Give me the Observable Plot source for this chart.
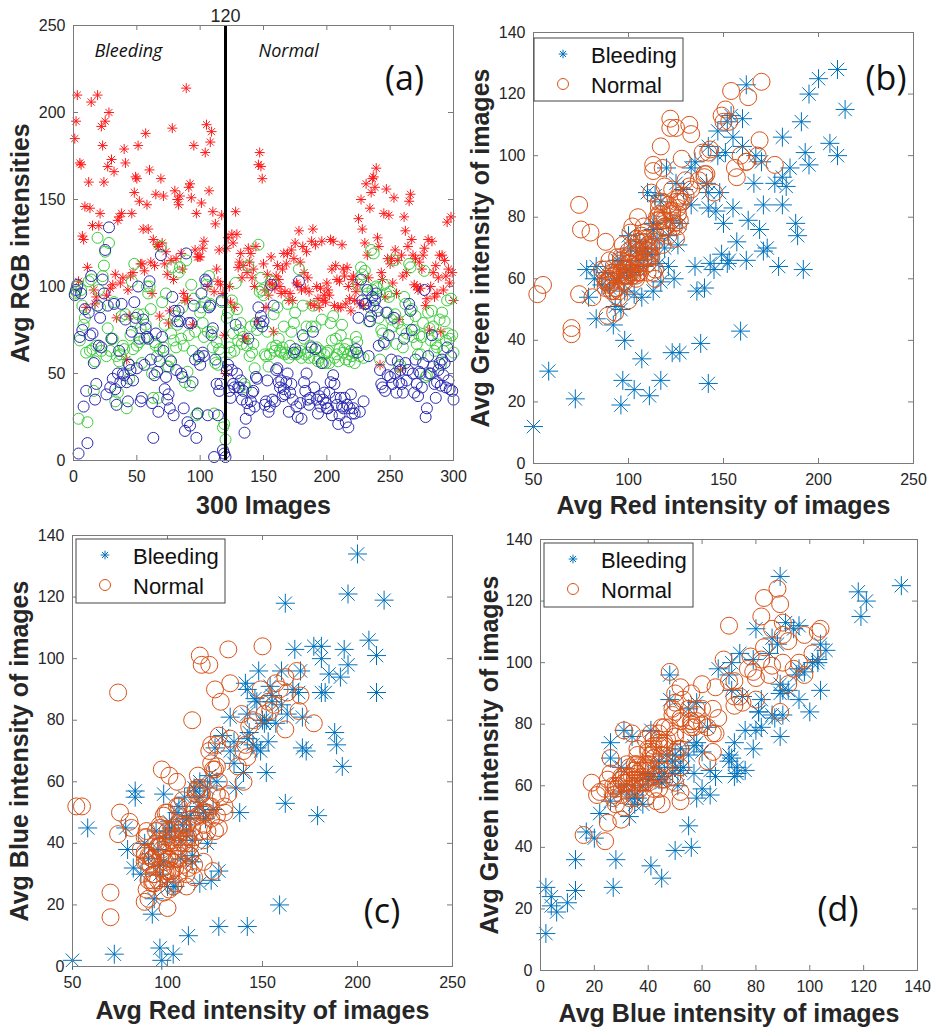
<!DOCTYPE html>
<html>
<head>
<meta charset="utf-8">
<script src="https://cdn.jsdelivr.net/npm/d3@7"></script>
<script src="https://cdn.jsdelivr.net/npm/@observablehq/plot@0.6"></script>
<style>
  body { margin: 0; background: #fff; }
  #fig { position: relative; width: 935px; height: 1030px; background: #fff; overflow: hidden; }
</style>
</head>
<body>
<div id="fig"></div>
<script>
// ---------------- DATA ----------------
// Average R, G, B intensity of each of the 300 images (images 1..120 bleeding, 121..300 normal)
const bleedingCount = 120;
const classNames = ["Bleeding", "Normal"];

const avgRed = [
  185,195,210,103,171,170,129,127,146,88,
  111,160,145,206,135,98,90,94,210,135,
  142,192,181,160,195,95,169,200,99,173,
  101,166,107,82,138,140,102,142,105,179,
  171,58,98,83,106,142,108,154,163,162,
  181,149,113,113,133,109,188,147,133,167,
  114,96,127,112,153,124,123,83,162,125,
  152,113,120,107,79,86,115,191,104,155,
  116,150,147,152,119,110,96,92,214,93,
  157,159,151,78,181,121,142,117,117,117,
  148,122,126,177,193,100,155,183,189,143,
  97,136,110,103,121,101,141,96,72,50,
  122,128,100,91,130,125,88,143,130,111,
  114,119,105,112,70,70,108,122,114,119,
  105,110,100,123,80,170,177,169,162,113,
  98,88,107,95,102,117,101,74,99,106,
  112,104,100,96,110,119,97,113,119,92,
  96,121,92,116,125,102,101,132,114,98,
  123,108,99,120,105,97,90,126,133,89,
  124,100,93,88,99,126,92,95,91,102,
  98,95,127,110,126,89,112,104,88,103,
  88,124,110,106,90,111,100,93,86,104,
  106,92,97,101,139,90,150,133,89,125,
  159,118,105,145,154,162,163,157,168,128,
  123,55,108,104,142,94,156,116,141,113,
  116,102,151,121,96,115,81,52,118,106,
  140,132,108,123,149,153,127,118,101,116,
  100,98,114,99,110,118,122,89,93,127,
  75,100,126,108,94,112,96,105,118,74,
  118,98,115,106,137,110,102,140,108,92
];
const avgGreen = [
  96,97,100,24,69,98,89,78,82,62,
  22,103,63,104,64,40,57,66,128,98,
  88,63,106,112,120,60,76,125,63,70,
  70,91,34,60,39,57,61,83,66,64,
  84,30,56,47,72,103,64,113,79,66,
  84,68,76,56,84,70,78,100,96,100,
  87,50,36,68,66,60,36,64,123,91,
  65,78,96,54,54,58,73,111,69,83,
  65,78,108,111,70,88,66,45,115,51,
  72,43,101,63,93,74,26,27,59,85,
  88,79,71,91,101,74,106,90,74,65,
  27,56,68,55,64,62,91,19,21,12,
  82,85,65,62,92,73,63,102,87,69,
  75,79,67,71,44,42,66,112,60,77,
  62,67,53,79,75,124,97,105,98,95,
  61,60,74,54,61,103,65,84,63,66,
  88,70,63,62,65,77,61,62,90,59,
  66,74,61,79,85,61,62,110,63,59,
  89,70,61,77,62,59,66,77,89,59,
  77,65,57,59,63,81,56,61,56,62,
  63,56,79,69,83,59,70,61,57,64,
  72,78,62,64,58,67,61,57,63,60,
  62,56,71,68,101,60,111,107,59,109,
  100,96,80,88,121,98,119,93,100,99,
  82,58,75,73,101,67,96,85,94,97,
  81,77,115,84,67,79,54,55,75,65,
  94,90,73,81,113,111,87,71,75,83,
  67,61,72,61,71,79,109,48,49,85,
  76,69,86,77,63,67,65,72,81,55,
  85,63,80,69,92,73,70,93,72,62
];
const avgBlue = [
  95,98,101,4,71,96,75,31,87,40,
  10,85,72,106,73,56,35,44,89,66,
  82,65,104,96,121,38,89,134,42,70,
  47,90,41,32,50,63,45,90,50,49,
  81,45,34,55,52,74,46,91,82,53,
  100,70,34,36,81,55,76,71,70,103,
  58,33,13,49,73,51,28,57,118,71,
  63,41,48,35,38,30,57,94,26,86,
  52,80,86,80,50,48,30,17,119,22,
  79,20,79,45,89,58,13,27,60,55,
  96,62,60,104,103,26,88,89,72,76,
  2,58,44,26,40,44,92,6,4,2,
  52,55,40,36,52,44,42,78,50,42,
  42,46,35,40,16,24,33,70,29,34,
  39,40,31,48,47,88,79,83,77,80,
  32,34,46,28,31,101,35,89,34,52,
  53,45,42,46,37,41,38,45,50,28,
  39,44,35,62,64,31,25,103,33,24,
  72,45,40,50,35,32,36,65,74,42,
  64,35,27,37,31,56,35,39,33,30,
  30,39,45,26,49,44,36,32,21,26,
  36,31,30,36,22,32,19,30,38,27,
  30,27,64,62,82,28,104,92,34,90,
  90,98,60,80,83,94,89,92,96,86,
  66,52,44,42,68,40,85,49,72,48,
  58,44,82,50,39,57,45,52,44,39,
  70,56,46,52,90,86,75,50,39,58,
  44,37,51,50,42,56,98,25,30,60,
  50,50,72,54,44,36,45,52,56,43,
  58,49,56,42,65,46,41,60,40,35
];

// Tick labels
const ticksA_x = [0, 50, 100, 150, 200, 250, 300];
const ticksA_y = [0, 50, 100, 150, 200, 250];
const ticksRed = [50, 100, 150, 200, 250];
const ticksInt = [0, 20, 40, 60, 80, 100, 120, 140];

// Axis titles / annotations
const labels = {
  a: {x: "300 Images", y: "Avg RGB intensities", tag: "(a)"},
  b: {x: "Avg Red intensity of images", y: "Avg Green intensity of images", tag: "(b)"},
  c: {x: "Avg Red intensity of images", y: "Avg Blue intensity of images", tag: "(c)"},
  d: {x: "Avg Blue intensity of images", y: "Avg Green intensity of images", tag: "(d)"}
};

// ---------------- TABLE ----------------
const images = avgRed.map((r, i) => ({
  n: i + 1, R: r, G: avgGreen[i], B: avgBlue[i],
  cls: i < bleedingCount ? classNames[0] : classNames[1]
}));
const bleeding = images.filter(d => d.cls === classNames[0]);
const normal = images.filter(d => d.cls === classNames[1]);

// ---------------- STYLE ----------------
const frameColor = "#7a7a7a";
const textColor = "#262626";
const colBleed = "#0072BD";
const colNormal = "#D95319";
const sansFont = "'Liberation Sans', Arial, Helvetica, sans-serif";
const tagFont = "'Open Sans', 'Noto Sans', sans-serif";

// MATLAB-like 8-armed asterisk marker
const asterisk = {
  draw(ctx, size) {
    const r = Math.sqrt(size / Math.PI);
    const d = r * Math.SQRT1_2;
    ctx.moveTo(-r, 0); ctx.lineTo(r, 0);
    ctx.moveTo(0, -r); ctx.lineTo(0, r);
    ctx.moveTo(-d, -d); ctx.lineTo(d, d);
    ctx.moveTo(-d, d); ctx.lineTo(d, -d);
  }
};

function legendMark({dx, dy, w, h}) {
  return (index, scales, values, dims) => {
    const g = d3.create("svg:g");
    const x0 = dims.marginLeft + dx, y0 = dims.marginTop + dy;
    g.append("rect").attr("x", x0).attr("y", y0).attr("width", w).attr("height", h)
      .attr("fill", "white").attr("stroke", "#444").attr("stroke-width", 1);
    const rows = [
      {label: classNames[0], sym: asterisk, r: 4.3, color: colBleed, cy: 16},
      {label: classNames[1], sym: d3.symbolCircle, r: 5.5, color: colNormal, cy: 46}
    ];
    for (const row of rows) {
      g.append("path")
        .attr("d", d3.symbol(row.sym, Math.PI * row.r * row.r)())
        .attr("transform", `translate(${x0 + 29},${y0 + row.cy})`)
        .attr("fill", "none").attr("stroke", row.color).attr("stroke-width", 1);
      g.append("text")
        .attr("x", x0 + 57).attr("y", y0 + row.cy + 9)
        .attr("text-anchor", "start")
        .attr("font-size", 22).attr("font-family", sansFont).attr("fill", "#111")
        .text(row.label);
    }
    return g.node();
  };
}

function makePanel(cfg) {
  const [mt, mr, mb, ml] = cfg.margin;
  const W = cfg.width - ml - mr, H = cfg.height - mt - mb;
  const tl = 5;
  const chart = Plot.plot({
    width: cfg.width, height: cfg.height,
    marginTop: mt, marginRight: mr, marginBottom: mb, marginLeft: ml,
    style: {fontFamily: sansFont, fontSize: "16px", background: "transparent", overflow: "visible", color: textColor},
    x: {domain: cfg.xDomain, nice: false},
    y: {domain: cfg.yDomain, nice: false},
    marks: [
      ...cfg.marks,
      Plot.frame({stroke: frameColor, strokeWidth: 1}),
      Plot.tickX(cfg.xTicks, {x: d => d, insetTop: H - tl, stroke: frameColor}),
      Plot.tickX(cfg.xTicks, {x: d => d, insetBottom: H - tl, stroke: frameColor}),
      Plot.tickY(cfg.yTicks, {y: d => d, insetRight: W - tl, stroke: frameColor}),
      Plot.tickY(cfg.yTicks, {y: d => d, insetLeft: W - tl, stroke: frameColor}),
      Plot.axisX(cfg.xTicks, {tickSize: 0, tickPadding: 10, fontSize: 16, fill: textColor, label: null}),
      Plot.axisY(cfg.yTicks, {tickSize: 0, tickPadding: 8, fontSize: 16, fill: textColor, label: null}),
      Plot.text([cfg.labels.x], {text: d => d, frameAnchor: "bottom", dy: cfg.xLabelDy,
        textAnchor: "middle", lineAnchor: "middle",
        fontSize: 25, fontWeight: "bold", fill: textColor}),
      Plot.text([cfg.labels.y], {text: d => d, frameAnchor: "left", dx: cfg.yLabelDx, rotate: -90,
        textAnchor: "middle", lineAnchor: "middle",
        fontSize: 25, fontWeight: "bold", fill: textColor}),
      Plot.text([cfg.labels.tag], {text: d => d, frameAnchor: cfg.tag.anchor, dx: cfg.tag.dx, dy: cfg.tag.dy,
        textAnchor: "middle", lineAnchor: "middle",
        fontSize: 34, fontFamily: tagFont, fill: "#111"}),
      ...(cfg.extra || [])
    ]
  });
  chart.style.position = "absolute";
  chart.style.left = cfg.left + "px";
  chart.style.top = cfg.top + "px";
  document.getElementById("fig").append(chart);
}

// ---------------- PANEL (a) ----------------
makePanel({
  left: 0, top: 0, width: 465, height: 525, margin: [25, 12, 65, 73],
  xDomain: [0, 300], yDomain: [0, 250], xTicks: ticksA_x, yTicks: ticksA_y,
  labels: labels.a, xLabelDy: 45, yLabelDx: -53,
  tag: {anchor: "top-right", dx: -49, dy: 54},
  marks: [
    Plot.dot(images, {x: "n", y: "R", symbol: asterisk, r: 5, stroke: "#ff1a1a", fill: "none", strokeWidth: 1}),
    Plot.dot(images, {x: "n", y: "G", r: 5.5, stroke: "#3ccc3c", fill: "none", strokeWidth: 1}),
    Plot.dot(images, {x: "n", y: "B", r: 5.5, stroke: "#2a2ab0", fill: "none", strokeWidth: 1}),
    Plot.ruleX([bleedingCount], {stroke: "#000", strokeWidth: 3})
  ],
  extra: [
    Plot.text([bleedingCount], {x: d => d, text: d => String(d), frameAnchor: "top", dy: -9,
      textAnchor: "middle", lineAnchor: "middle", fontSize: 18, fill: textColor}),
    Plot.text([classNames[0]], {text: d => d, frameAnchor: "top-left", textAnchor: "start", lineAnchor: "middle",
      dx: 21, dy: 26, fontSize: 18, fontStyle: "italic", fontFamily: tagFont, fill: "#111"}),
    Plot.text([classNames[1]], {text: d => d, frameAnchor: "top-left", textAnchor: "start", lineAnchor: "middle",
      dx: 185, dy: 26, fontSize: 18, fontStyle: "italic", fontFamily: tagFont, fill: "#111"})
  ]
});

// ---------------- PANELS (b)-(d) ----------------
const scatterMarks = (xk, yk) => [
  Plot.dot(bleeding, {x: xk, y: yk, symbol: asterisk, r: 9.5, stroke: colBleed, fill: "none", strokeWidth: 1}),
  Plot.dot(normal, {x: xk, y: yk, r: 8.5, stroke: colNormal, fill: "none", strokeWidth: 1})
];

makePanel({
  left: 465, top: 0, width: 470, height: 525, margin: [32, 22, 62, 68],
  xDomain: [50, 250], yDomain: [0, 140], xTicks: ticksRed, yTicks: ticksInt,
  labels: labels.b, xLabelDy: 42, yLabelDx: -53,
  tag: {anchor: "top-right", dx: -27.5, dy: 47},
  marks: scatterMarks("R", "G"),
  extra: [legendMark({dx: 1, dy: 6, w: 149, h: 63})]
});

makePanel({
  left: 0, top: 525, width: 465, height: 505, margin: [10, 13, 64, 72],
  xDomain: [50, 250], yDomain: [0, 140], xTicks: ticksRed, yTicks: ticksInt,
  labels: labels.c, xLabelDy: 44, yLabelDx: -53,
  tag: {anchor: "bottom-right", dx: -70.5, dy: -54},
  marks: scatterMarks("R", "B"),
  extra: [legendMark({dx: 4, dy: 4, w: 149, h: 64})]
});

makePanel({
  left: 465, top: 525, width: 470, height: 505, margin: [14, 18, 60, 75],
  xDomain: [0, 140], yDomain: [0, 140], xTicks: ticksInt, yTicks: ticksInt,
  labels: labels.d, xLabelDy: 43, yLabelDx: -51,
  tag: {anchor: "bottom-right", dx: -79.5, dy: -60},
  marks: scatterMarks("B", "G"),
  extra: [legendMark({dx: 4, dy: 4, w: 149, h: 64})]
});
</script>
</body>
</html>
